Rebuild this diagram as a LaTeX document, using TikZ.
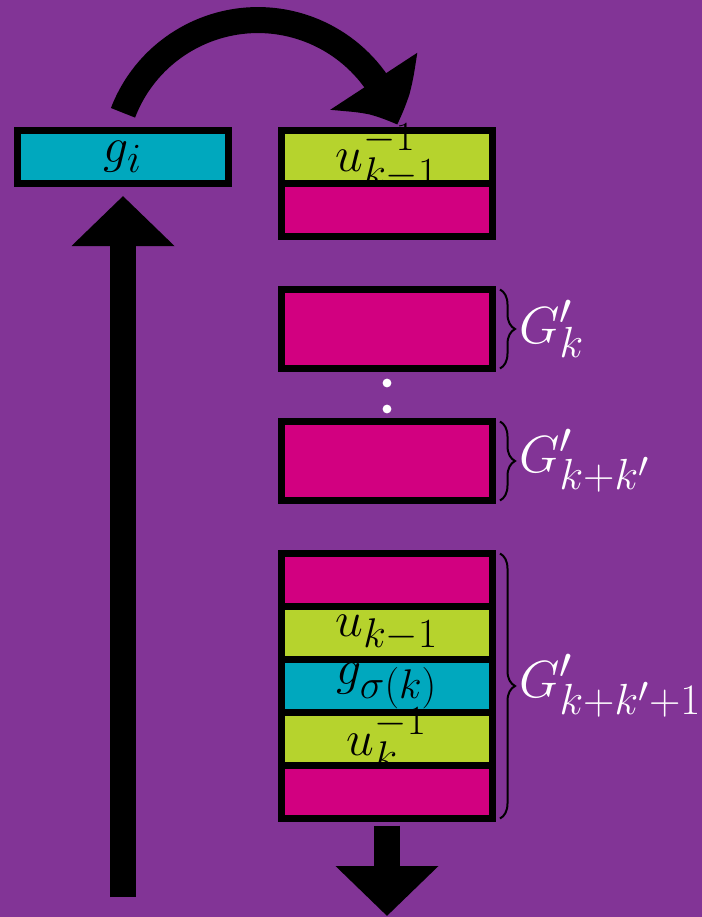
\documentclass[tikz,border=0pt]{standalone}
\usepackage{tikz}
\usetikzlibrary{arrows.meta, bending, positioning, decorations.pathreplacing}

\definecolor{bgpurple}{RGB}{130,52,150}
\definecolor{cellcyan}{RGB}{0,168,190}
\definecolor{celllime}{RGB}{182,211,45}
\definecolor{cellpink}{RGB}{210,0,128}

\begin{document}
\begin{tikzpicture}[
  x=0.5pt, y=-0.5pt,
  font=\Huge,
  node distance=26.5pt,
  cell/.style={rectangle, draw=black, line width=3.5pt, outer sep=0pt,
    inner sep=0pt, minimum width=105.5pt, minimum height=26.5pt},
  tall/.style={cell, fill=cellpink, minimum height=39.5pt},
  fat/.style={-{Triangle[width=50pt, length=25pt]}, line width=13pt},
  brc/.style={decorate, decoration={brace, amplitude=7.5pt}, line width=1pt},
  lbl/.style={text=white, inner sep=1pt, scale=1.05}
]
\useasboundingbox (0,0) rectangle (702,917);
\fill[bgpurple] (0,0) rectangle (702,917);

% top stack and the single cell
\node[cell, fill=celllime, label={center:$u^{-1}_{k-1}$}] (t1) at (387,157) {};
\node[cell, fill=cellpink, below=0pt of t1] (t2) {};
\node[cell, fill=cellcyan, left=of t1, label={center:$g_i$}] (gi) {};

% blocks
\node[tall, below=of t2] (m1) {};
\node[tall, below=of m1] (m2) {};
\fill[white] ([yshift=-7.25pt]m1.south) circle[radius=2.2pt];
\fill[white] ([yshift=6.25pt]m2.north) circle[radius=2.2pt];

% bottom stack
\node[cell, fill=cellpink, below=of m2] (b1) {};
\node[cell, fill=celllime, below=0pt of b1, label={center:$u_{k-1}$}] (b2) {};
\node[cell, fill=cellcyan, below=0pt of b2, label={center:$g_{\sigma(k)}$}] (b3) {};
\node[cell, fill=celllime, below=0pt of b3, label={center:$u^{-1}_k$}] (b4) {};
\node[cell, fill=cellpink, below=0pt of b4] (b5) {};

% braces
\draw[brc] ([xshift=3.75pt]m1.north east) -- ([xshift=3.75pt]m1.south east)
  node[lbl, midway, right=8pt] {$G'_k$};
\draw[brc] ([xshift=3.75pt]m2.north east) -- ([xshift=3.75pt]m2.south east)
  node[lbl, midway, right=8pt] {$G'_{k+k'}$};
\draw[brc] ([xshift=3.75pt]b1.north east) -- ([xshift=3.75pt]b5.south east)
  node[lbl, midway, right=8pt] {$G'_{k+k'+1}$};

% arrows
\coordinate (foot) at (0,897);
\coordinate (exit) at (0,916);
\draw[fat] (gi.south |- foot) -- ([yshift=-6.25pt]gi.south);
\draw[fat] ([yshift=-3.5pt]b5.south) -- (b5.south |- exit);
\draw[fat, -{Triangle[width=50pt, length=25pt, bend]}] ([yshift=8.85pt]gi.north)
  arc[start angle=201, end angle=344, radius=144.5];
\end{tikzpicture}
\end{document}
